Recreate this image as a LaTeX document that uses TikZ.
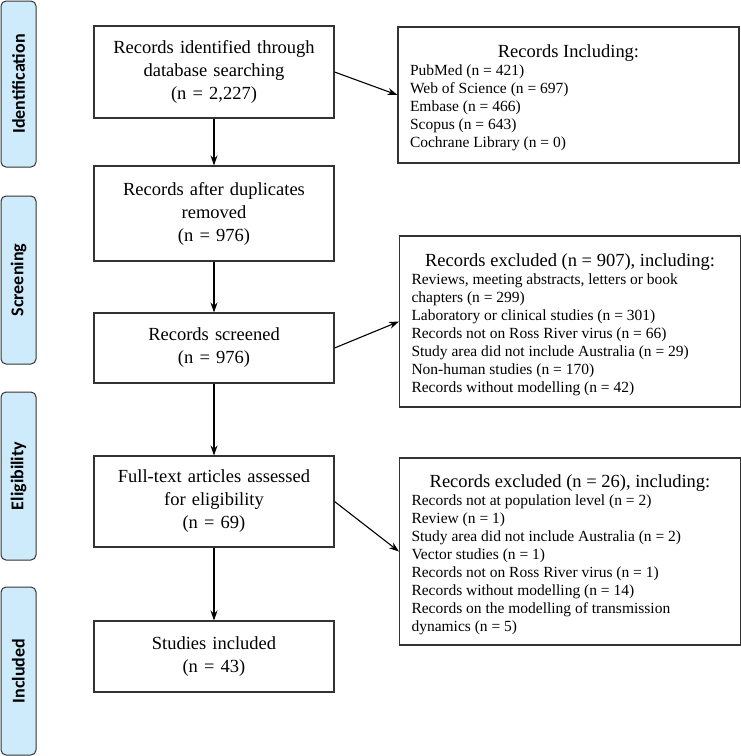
\documentclass[tikz,border=0pt]{standalone}
\usepackage{fontspec}
\setmainfont{Liberation Serif}
\newfontfamily\stagefont{Carlito}
\usepackage{tikz}
\usetikzlibrary{arrows.meta}
\definecolor{stageblue}{RGB}{206,235,251}
\newcommand\headsize{\fontsize{18.5}{22}\selectfont}
\newcommand\listsize{\fontsize{15.5}{18}\selectfont}

\begin{document}
\begin{tikzpicture}[x=1pt,y=-1pt,
  >={Stealth[length=10pt,width=7pt]},
  stage/.style={draw=black!80, line width=1pt, fill=stageblue, rounded corners=5pt,
    rotate=90, minimum width=168pt, minimum height=35pt, inner sep=0pt,
    font=\stagefont\bfseries\fontsize{18}{20}\selectfont},
  flowbox/.style={draw=black!80, line width=1.1pt, minimum width=240pt, text width=226pt,
    align=center, inner sep=0pt, font=\fontsize{18.5}{23}\selectfont},
  notebox/.style={draw=black!80, line width=1.1pt, minimum width=341pt, inner sep=0pt},
  link/.style={->, line width=1.1pt}]
  \useasboundingbox (0,0) rectangle (740,756);

  % stages on the left
  \node [stage, minimum width=166pt] (ident) at (18.5,84) {Identification};
  \node [stage] (screen) at (18.5,280) {Screening};
  \node [stage] (elig) at (18.5,476) {Eligibility};
  \node [stage] (incl) at (18.5,671) {Included};

  % main flow
  \node [flowbox, minimum height=92pt] (found) at (214,72)
    {Records identified through\\database searching\\(n = 2,227)};
  \node [flowbox, minimum height=95pt] (dedup) at (214,213.5)
    {Records after duplicates\\removed\\(n = 976)};
  \node [flowbox, minimum height=70pt] (screened) at (214,348)
    {Records screened\\(n = 976)};
  \node [flowbox, minimum height=91pt] (fulltext) at (214,501.5)
    {Full-text articles assessed\\for eligibility\\(n = 69)};
  \node [flowbox, minimum height=71pt] (studies) at (214,656.5)
    {Studies included\\(n = 43)};

  % side boxes
  \node [notebox, minimum height=136pt] (sources) at (568.5,95)
    {\begin{minipage}{317pt}\vspace*{6pt}\centering\headsize Records Including:\par
     \raggedright\listsize
     PubMed (n = 421)\\Web of Science (n = 697)\\Embase (n = 466)\\
     Scopus (n = 643)\\Cochrane Library (n = 0)\end{minipage}};
  \node [notebox, minimum height=171pt] (excl) at (570,321.5)
    {\begin{minipage}{317pt}\vspace*{6pt}\centering\headsize Records excluded (n = 907), including:\par
     \raggedright\listsize
     Reviews, meeting abstracts, letters or book\\chapters (n = 299)\\
     Laboratory or clinical studies (n = 301)\\Records not on Ross River virus (n = 66)\\
     Study area did not include Australia (n = 29)\\Non-human studies (n = 170)\\
     Records without modelling (n = 42)\end{minipage}};
  \node [notebox, minimum height=187pt] (exclft) at (570,551.5)
    {\begin{minipage}{317pt}\vspace*{6pt}\centering\headsize Records excluded (n = 26), including:\par
     \raggedright\listsize
     Records not at population level (n = 2)\\Review (n = 1)\\
     Study area did not include Australia (n = 2)\\Vector studies (n = 1)\\
     Records not on Ross River virus (n = 1)\\Records without modelling (n = 14)\\
     Records on the modelling of transmission\\dynamics (n = 5)\end{minipage}};

  \draw [link] (found) -- (dedup);
  \draw [link] (dedup) -- (screened);
  \draw [link] (screened) -- (fulltext);
  \draw [link] (fulltext) -- (studies);
  \draw [link] (found.east) -- (sources.west);
  \draw [link] (screened.east) -- (excl.west);
  \draw [link] (fulltext.east) -- (exclft.west);
\end{tikzpicture}
\end{document}
